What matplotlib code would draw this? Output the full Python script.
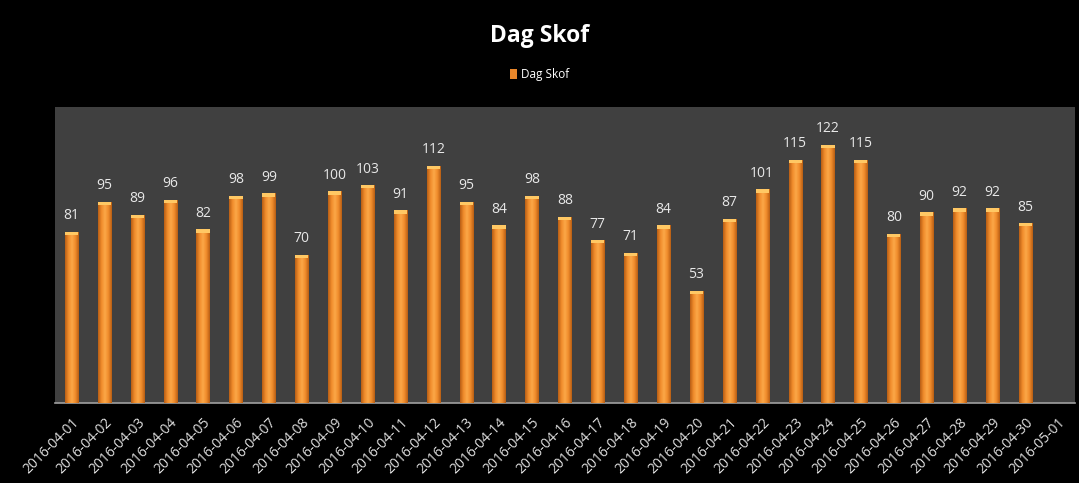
import numpy as np
import matplotlib.pyplot as plt
from matplotlib.colors import LinearSegmentedColormap

dates = ["2016-04-%02d" % d for d in range(1, 31)] + ["2016-05-01"]
values = [81, 95, 89, 96, 82, 98, 99, 70, 100, 103, 91, 112, 95, 84, 98,
          88, 77, 71, 84, 53, 87, 101, 115, 122, 115, 80, 90, 92, 92, 85]

plt.rcParams['font.family'] = ['Open Sans', 'DejaVu Sans']

fig = plt.figure(figsize=(10.79, 4.83), dpi=100, facecolor='black')
ax = fig.add_axes([0.051, 0.166, 0.945, 0.613])
ax.set_facecolor('#404040')

x = np.arange(len(dates))
bars = ax.bar(x[:len(values)], values, width=0.4, color='#E8862A', zorder=2)

# cylinder-ish shading across each bar
cmap = LinearSegmentedColormap.from_list(
    'cyl', ['#B85E14', '#F08C2C', '#FBA848', '#F08C2C', '#B85E14'])
grad = np.linspace(0, 1, 64).reshape(1, -1)
for b in bars:
    x0, w, h = b.get_x(), b.get_width(), b.get_height()
    im = ax.imshow(grad, cmap=cmap, extent=[x0, x0 + w, 0, h],
                   aspect='auto', zorder=3, interpolation='bilinear')
    im.set_clip_path(b)
    ax.bar(x0 + w / 2, 1.6, width=w, bottom=h - 1.6, color='#FFC864', zorder=4)
    ax.text(x0 + w / 2, h + 4, str(int(h)), ha='center', va='bottom',
            color='#E8E8E8', fontsize=10, zorder=5)

ax.set_xlim(-0.5, len(dates) - 0.5)
ax.set_ylim(0, 140)
ax.set_yticks([])
ax.set_xticks(x)
ax.set_xticklabels(dates, rotation=45, ha='right', rotation_mode='anchor',
                   color='#E0E0E0', fontsize=10)
ax.tick_params(axis='x', length=0, pad=9)
for s in ['top', 'right', 'left']:
    ax.spines[s].set_visible(False)
ax.spines['bottom'].set_color('#A0A0A0')
ax.spines['bottom'].set_linewidth(1.2)

fig.text(0.5, 0.925, 'Dag Skof', ha='center', va='center', color='white',
         fontsize=16.5, fontweight='bold')
leg = ax.legend([bars[0]], ['Dag Skof'], loc='center',
                bbox_to_anchor=(0.5, 0.845), bbox_transform=fig.transFigure,
                frameon=False, fontsize=8.5, handlelength=0.6, handleheight=0.9,
                handletextpad=0.3)
for t in leg.get_texts():
    t.set_color('white')

fig.savefig('out.png', dpi=100, facecolor='black')
